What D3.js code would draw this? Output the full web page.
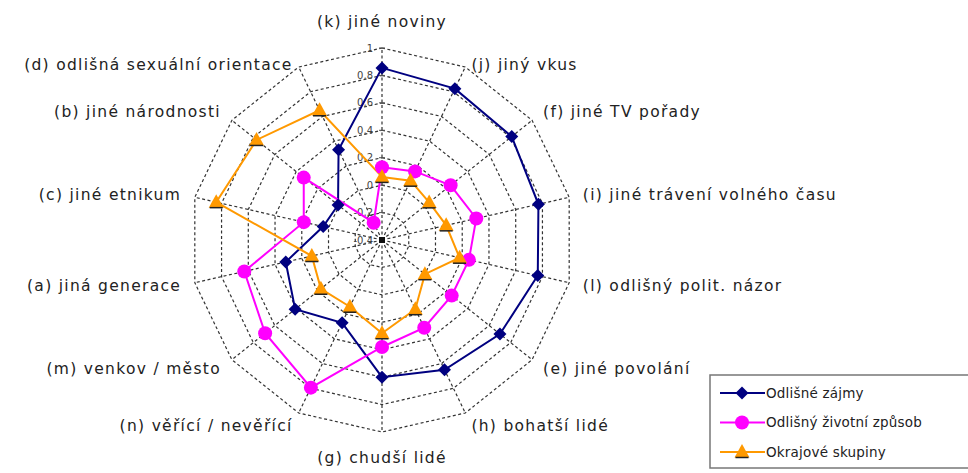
<!DOCTYPE html>
<html>
<head>
<meta charset="utf-8">
<title>Radar</title>
<script src="https://d3js.org/d3.v7.min.js"></script>
<style>
  body { margin: 0; background: #fff; }
  .grid { fill: none; stroke: #333; stroke-width: 1.2; stroke-dasharray: 3,2.5; }
  .lbl { font-family: "DejaVu Sans", sans-serif; font-size: 15.5px; letter-spacing: 1.3px; fill: #222; }
  .tick { font-family: "DejaVu Sans", sans-serif; font-size: 10px; fill: #444; }
  .leg { font-family: "DejaVu Sans", sans-serif; font-size: 13.5px; letter-spacing: 0.2px; fill: #222; }
</style>
</head>
<body>
<svg width="968" height="473"></svg>
<script>
// axes, clockwise from the top
var categories = ["(k) jiné noviny", "(j) jiný vkus", "(f) jiné TV pořady", "(i) jiné trávení volného času",
  "(l) odlišný polit. názor", "(e) jiné povolání", "(h) bohatší lidé", "(g) chudší lidé",
  "(n) věřící / nevěřící", "(m) venkov / město", "(a) jiná generace", "(c) jiné etnikum",
  "(b) jiné národnosti", "(d) odlišná sexuální orientace"];

var seriesNames = ["Odlišné zájmy", "Odlišný životní způsob", "Okrajové skupiny"];

var zajmy   = [0.855, 0.825, 0.81, 0.77, 0.765, 0.70, 0.65, 0.60, 0.27, 0.41, 0.32, 0.04, 0.01, 0.33];
var zpusob  = [0.13, 0.155, 0.24, 0.305, 0.25, 0.25, 0.31, 0.38, 0.795, 0.69, 0.63, 0.185, 0.33, -0.26];
var okrajove = [0.06, 0.08, 0.04, 0.08, 0.18, 0.0, 0.16, 0.28, 0.14, 0.17, 0.125, 0.84, 0.77, 0.65];

var tickValues = [-0.4, -0.2, 0, 0.2, 0.4, 0.6, 0.8, 1];
var tickLabels = ["-0,4", "-0,2", "0", "0,2", "0,4", "0,6", "0,8", "1"];

var colors = ["#000080", "#ff00ff", "#ff9900"];

var svg = d3.select("svg");
var cx = 382, cy = 240, R = 192;
var n = categories.length;

var r = d3.scaleLinear().domain([-0.4, 1]).range([0, R]);
var ang = d3.scaleLinear().domain([0, n]).range([0, 2 * Math.PI]);

function pt(i, v) {
  var a = ang(i);
  return [cx + r(v) * Math.sin(a), cy - r(v) * Math.cos(a)];
}

var g = svg.append("g");

// rings
tickValues.slice(1).forEach(function (t) {
  var pts = d3.range(n).map(function (i) { return pt(i, t); });
  g.append("path").attr("class", "grid")
    .attr("d", d3.line()(pts) + "Z");
});

// spokes
d3.range(n).forEach(function (i) {
  var p = pt(i, 1);
  g.append("line").attr("class", "grid")
    .attr("x1", cx).attr("y1", cy).attr("x2", p[0]).attr("y2", p[1]);
});

// ticks on the top axis
tickValues.forEach(function (t, k) {
  var y = cy - r(t);
  g.append("line").attr("x1", cx - 3).attr("x2", cx + 3).attr("y1", y).attr("y2", y)
    .attr("stroke", "#555").attr("stroke-width", 1);
  g.append("text").attr("class", "tick")
    .attr("x", cx - 9).attr("y", y).attr("dy", "0.35em")
    .attr("text-anchor", "end").text(tickLabels[k]);
});
g.append("rect").attr("x", cx - 3).attr("y", cy - 3).attr("width", 6).attr("height", 6).attr("fill", "#111");

// category labels
categories.forEach(function (c, i) {
  var a = ang(i), s = Math.sin(a), co = Math.cos(a);
  var lr = R + 14;
  var x = cx + lr * s, y = cy - lr * co;
  var anchor = s > 0.1 ? "start" : (s < -0.1 ? "end" : "middle");
  if (co > 0.99) y -= 12;
  else if (co < -0.99) y += 12;
  else if (co > 0.85) y += 10;
  g.append("text").attr("class", "lbl")
    .attr("x", x).attr("y", y).attr("dy", "0.35em")
    .attr("text-anchor", anchor).text(c);
});

// series
var series = [zajmy, zpusob, okrajove];
var lineGen = d3.line();

function marker(sel, k, x, y) {
  if (k === 0) {
    sel.append("path").attr("d", "M0,-6.5L6.5,0L0,6.5L-6.5,0Z")
      .attr("transform", "translate(" + x + "," + y + ")").attr("fill", colors[0]);
  } else if (k === 1) {
    sel.append("circle").attr("cx", x).attr("cy", y).attr("r", 7).attr("fill", colors[1]);
  } else {
    sel.append("path").attr("d", "M0,-8L7.5,5.5L-7.5,5.5Z")
      .attr("transform", "translate(" + x + "," + y + ")").attr("fill", colors[2]);
    sel.append("line").attr("x1", x - 6.5).attr("x2", x + 6.5).attr("y1", y + 5.5).attr("y2", y + 5.5)
      .attr("stroke", "#222").attr("stroke-width", 1.5);
  }
}

series.forEach(function (vals, k) {
  var pts = vals.map(function (v, i) { return pt(i, v); });
  svg.append("path").attr("d", lineGen(pts) + "Z")
    .attr("fill", "none").attr("stroke", colors[k]).attr("stroke-width", 2);
});
series.forEach(function (vals, k) {
  var mg = svg.append("g");
  vals.forEach(function (v, i) {
    var p = pt(i, v);
    marker(mg, k, p[0], p[1]);
  });
});

// legend
var lg = svg.append("g");
lg.append("rect").attr("x", 710).attr("y", 375).attr("width", 280).attr("height", 93)
  .attr("fill", "#fff").attr("stroke", "#777").attr("stroke-width", 1.5);
seriesNames.forEach(function (name, k) {
  var y = 393 + k * 29.5;
  lg.append("line").attr("x1", 720).attr("x2", 765).attr("y1", y).attr("y2", y)
    .attr("stroke", colors[k]).attr("stroke-width", 2);
  marker(lg, k, 742, y);
  lg.append("text").attr("class", "leg").attr("x", 766).attr("y", y).attr("dy", "0.35em").text(name);
});
</script>
</body>
</html>
